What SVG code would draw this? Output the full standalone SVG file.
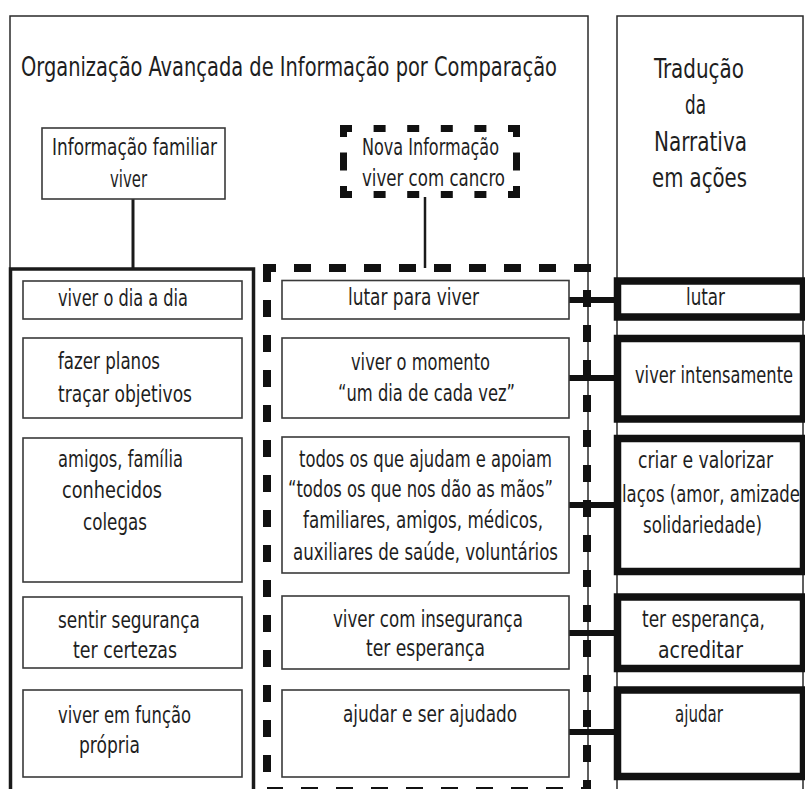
<svg xmlns="http://www.w3.org/2000/svg" width="805" height="789" viewBox="0 0 805 789">
<style>
.t{font-family:"DejaVu Sans Condensed","DejaVu Sans","Liberation Sans",sans-serif;font-stretch:condensed;font-size:23px;fill:#1e1e1e}
.h{font-size:26.5px}
.frame{fill:none;stroke:#2a2a2a;stroke-width:1.5}
.box{fill:none;stroke:#3a3a3a;stroke-width:1.6}
.col{fill:none;stroke:#1a1a1a;stroke-width:3.5}
.act{fill:none;stroke:#111;stroke-width:7.5}
.dash{fill:none;stroke:#111;stroke-width:8;stroke-dasharray:17 18;stroke-dashoffset:8}
.nd{fill:none;stroke:#111;stroke-width:7}
.conn{stroke:#111;stroke-width:6;fill:none}
.thin{stroke:#1a1a1a;fill:none}
</style>
<rect x="0" y="0" width="805" height="789" fill="#fff"/>

<g id="frame-organizacao">
  <rect class="frame" x="10" y="16" width="578" height="800"/>
  <text class="t h" x="21" y="76" textLength="536" lengthAdjust="spacingAndGlyphs">Organização Avançada de Informação por Comparação</text>
</g>

<g id="frame-traducao">
  <rect class="frame" x="617" y="16" width="186" height="800"/>
  <text class="t h" x="654" y="78" textLength="90" lengthAdjust="spacingAndGlyphs">Tradução</text>
  <text class="t h" x="685" y="114" textLength="21" lengthAdjust="spacingAndGlyphs">da</text>
  <text class="t h" x="654" y="151" textLength="93" lengthAdjust="spacingAndGlyphs">Narrativa</text>
  <text class="t h" x="652" y="187" textLength="95" lengthAdjust="spacingAndGlyphs">em ações</text>
</g>

<g id="col-familiar">
  <rect class="col" x="10.5" y="269" width="243" height="560"/>
</g>

<g id="col-nova">
  <rect class="dash" x="267" y="268" width="320" height="523"/>
</g>

<g id="connectors">
  <line class="thin" x1="133" y1="199" x2="133" y2="269" stroke-width="3"/>
  <line class="thin" x1="425" y1="197" x2="425" y2="268" stroke-width="2.5"/>
  <path class="conn" d="M569 300H617M569 378H617M569 505H617M569 633H617M569 732H617"/>
</g>

<g id="node-info-familiar">
  <rect class="box" x="42" y="128" width="183" height="71"/>
  <text class="t" x="52" y="155" textLength="165" lengthAdjust="spacingAndGlyphs">Informação familiar</text>
  <text class="t" x="110" y="187" textLength="37" lengthAdjust="spacingAndGlyphs">viver</text>
</g>

<g id="node-nova-info">
  <path class="nd" d="M340 128.5H520M340 194.5H520" stroke-dasharray="12 21.6"/>
  <path class="nd" d="M343.5 125V198M516.5 125V198" stroke-dasharray="12 15.5 18 15.5 12 100"/>
  <text class="t" x="362" y="155" textLength="137" lengthAdjust="spacingAndGlyphs">Nova Informação</text>
  <text class="t" x="362" y="186" textLength="143" lengthAdjust="spacingAndGlyphs">viver com cancro</text>
</g>

<g id="node-f1">
  <rect class="box" x="23" y="281" width="219" height="38"/>
  <text class="t" x="58" y="306" textLength="130" lengthAdjust="spacingAndGlyphs">viver o dia a dia</text>
</g>
<g id="node-f2">
  <rect class="box" x="23" y="338" width="219" height="80"/>
  <text class="t" x="58" y="369" textLength="102" lengthAdjust="spacingAndGlyphs">fazer planos</text>
  <text class="t" x="58" y="402" textLength="134" lengthAdjust="spacingAndGlyphs">traçar objetivos</text>
</g>
<g id="node-f3">
  <rect class="box" x="23" y="438" width="219" height="144"/>
  <text class="t" x="58" y="467" textLength="125" lengthAdjust="spacingAndGlyphs">amigos, família</text>
  <text class="t" x="62" y="498" textLength="100" lengthAdjust="spacingAndGlyphs">conhecidos</text>
  <text class="t" x="83" y="530" textLength="64" lengthAdjust="spacingAndGlyphs">colegas</text>
</g>
<g id="node-f4">
  <rect class="box" x="23" y="597" width="219" height="71"/>
  <text class="t" x="58" y="628" textLength="142" lengthAdjust="spacingAndGlyphs">sentir segurança</text>
  <text class="t" x="73" y="658" textLength="104" lengthAdjust="spacingAndGlyphs">ter certezas</text>
</g>
<g id="node-f5">
  <rect class="box" x="23" y="690" width="219" height="87"/>
  <text class="t" x="58" y="723" textLength="133" lengthAdjust="spacingAndGlyphs">viver em função</text>
  <text class="t" x="79" y="753" textLength="61" lengthAdjust="spacingAndGlyphs">própria</text>
</g>

<g id="node-n1">
  <rect class="box" x="282" y="280.5" width="287" height="38.5"/>
  <text class="t" x="348" y="305" textLength="131" lengthAdjust="spacingAndGlyphs">lutar para viver</text>
</g>
<g id="node-n2">
  <rect class="box" x="282" y="338" width="287" height="80"/>
  <text class="t" x="351" y="370" textLength="139" lengthAdjust="spacingAndGlyphs">viver o momento</text>
  <text class="t" x="338" y="401" textLength="177" lengthAdjust="spacingAndGlyphs">“um dia de cada vez”</text>
</g>
<g id="node-n3">
  <rect class="box" x="282" y="437" width="287" height="136"/>
  <text class="t" x="299" y="467" textLength="253" lengthAdjust="spacingAndGlyphs">todos os que ajudam e apoiam</text>
  <text class="t" x="288" y="497" textLength="265" lengthAdjust="spacingAndGlyphs">“todos os que nos dão as mãos”</text>
  <text class="t" x="303" y="528" textLength="240" lengthAdjust="spacingAndGlyphs">familiares, amigos, médicos,</text>
  <text class="t" x="293" y="560" textLength="265" lengthAdjust="spacingAndGlyphs">auxiliares de saúde, voluntários</text>
</g>
<g id="node-n4">
  <rect class="box" x="282" y="596" width="287" height="73"/>
  <text class="t" x="333" y="627" textLength="190" lengthAdjust="spacingAndGlyphs">viver com insegurança</text>
  <text class="t" x="366" y="656" textLength="119" lengthAdjust="spacingAndGlyphs">ter esperança</text>
</g>
<g id="node-n5">
  <rect class="box" x="282" y="690" width="287" height="87"/>
  <text class="t" x="343" y="722" textLength="174" lengthAdjust="spacingAndGlyphs">ajudar e ser ajudado</text>
</g>

<g id="node-a1">
  <rect class="act" x="617.5" y="281" width="186" height="36"/>
  <text class="t" x="686" y="305" textLength="39" lengthAdjust="spacingAndGlyphs">lutar</text>
</g>
<g id="node-a2">
  <rect class="act" x="617.5" y="338.5" width="186" height="80.5"/>
  <text class="t" x="635" y="383" textLength="158" lengthAdjust="spacingAndGlyphs">viver intensamente</text>
</g>
<g id="node-a3">
  <rect class="act" x="617.5" y="438.5" width="186" height="133"/>
  <text class="t" x="638" y="468" textLength="135" lengthAdjust="spacingAndGlyphs">criar e valorizar</text>
  <text class="t" x="622" y="502" textLength="178" lengthAdjust="spacingAndGlyphs">laços (amor, amizade</text>
  <text class="t" x="643" y="533" textLength="119" lengthAdjust="spacingAndGlyphs">solidariedade)</text>
</g>
<g id="node-a4">
  <rect class="act" x="617.5" y="597" width="186" height="71.5"/>
  <text class="t" x="642" y="627" textLength="123" lengthAdjust="spacingAndGlyphs">ter esperança,</text>
  <text class="t" x="658" y="658" textLength="85" lengthAdjust="spacingAndGlyphs">acreditar</text>
</g>
<g id="node-a5">
  <rect class="act" x="617.5" y="690" width="186" height="86.5"/>
  <text class="t" x="675" y="722" textLength="48" lengthAdjust="spacingAndGlyphs">ajudar</text>
</g>
</svg>
